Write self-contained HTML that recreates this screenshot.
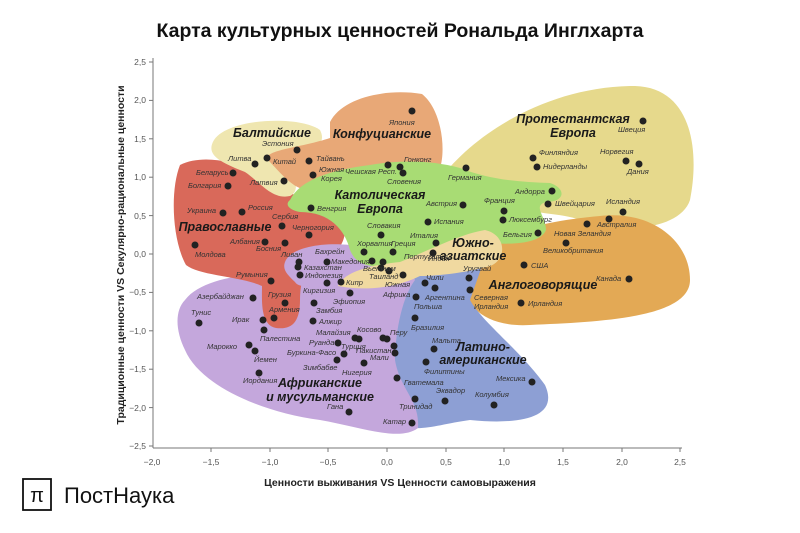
<!DOCTYPE html>
<html><head><meta charset="utf-8"><style>
body{margin:0;background:#fff;width:800px;height:533px;overflow:hidden}
svg{display:block;font-family:"Liberation Sans","DejaVu Sans",sans-serif}
.l{font-size:7.5px;font-style:italic;fill:#333}
.b{font-size:12.5px;font-weight:bold;font-style:italic;fill:#1a1a1a}
.t{font-size:8.5px;fill:#555}
</style></head><body>
<svg width="800" height="533" viewBox="0 0 800 533">
<text x="400" y="37" text-anchor="middle" font-size="19.5" font-weight="bold" fill="#111">Карта культурных ценностей Рональда Инглхарта</text>
<!-- regions -->
<path fill="#e6d98c" d="M436,185 C466,140 540,88 630,86 C692,84 700,150 690,200 C680,230 620,235 580,220 C560,212 520,214 500,202 C470,192 436,200 436,185Z"/>
<path fill="#e3a955" d="M465,262 C480,240 530,222 600,216 C650,210 690,240 690,280 C690,318 600,322 530,325 C480,328 455,300 465,262Z"/>
<path fill="#8d9fd4" d="M398,278 C420,266 460,260 482,266 L470,300 C482,322 520,350 545,385 C560,418 520,425 470,420 C440,424 422,432 402,426 C382,418 388,360 392,330 C395,300 388,286 398,278Z"/>
<path fill="#c4a7dc" d="M185,300 C200,280 240,275 270,272 C280,268 330,265 370,270 C400,272 412,270 415,280 C400,300 395,340 395,360 C400,390 420,400 418,428 C400,442 360,427 320,420 C260,412 200,385 185,350 C175,330 175,310 185,300Z"/>
<path fill="#d9695a" d="M180,165 C200,155 230,160 250,170 C270,185 300,200 330,205 C350,215 350,245 330,255 C310,262 300,272 300,300 C300,322 292,330 276,328 C260,325 262,300 262,286 C240,276 200,276 186,265 C172,240 170,190 180,165Z"/>
<path fill="#c4a7dc" d="M285,262 C290,248 320,242 350,245 C380,246 405,255 412,268 C405,282 380,285 350,285 C320,285 300,290 295,282 C288,275 282,270 285,262Z"/>
<path fill="#efe6b0" d="M214,140 C228,118 300,115 320,130 C330,150 300,150 292,160 C292,176 302,190 290,196 C272,200 260,182 245,172 C220,162 205,155 214,140Z"/>
<path fill="#e8a877" d="M330,122 C342,98 385,88 422,94 C442,110 446,150 440,168 C420,172 400,162 380,166 C360,176 330,192 305,190 C290,186 280,172 268,160 C262,150 300,148 330,138Z"/>
<path fill="#a8dc74" d="M290,200 C300,180 330,170 370,165 C400,160 430,160 460,168 C490,180 520,182 550,183 C566,188 566,202 546,202 C532,206 546,216 546,230 C540,246 500,246 470,240 C440,255 420,265 390,266 C370,268 356,265 350,250 C345,230 330,212 300,212 C290,210 284,205 290,200Z"/>
<path fill="#f0d9a0" d="M338,286 C344,272 370,265 400,262 C430,250 460,234 485,230 C507,235 507,260 490,266 C470,272 440,276 420,276 C400,286 370,292 338,286Z"/>
<!-- axes -->
<g stroke="#777" stroke-width="1">
<line x1="153" y1="58" x2="153" y2="448"/><line x1="153" y1="448" x2="682" y2="448"/>
<line x1="149" y1="62" x2="153" y2="62"/><line x1="149" y1="100.4" x2="153" y2="100.4"/><line x1="149" y1="138.8" x2="153" y2="138.8"/><line x1="149" y1="177.2" x2="153" y2="177.2"/><line x1="149" y1="215.6" x2="153" y2="215.6"/><line x1="149" y1="254" x2="153" y2="254"/><line x1="149" y1="292.4" x2="153" y2="292.4"/><line x1="149" y1="330.8" x2="153" y2="330.8"/><line x1="149" y1="369.2" x2="153" y2="369.2"/><line x1="149" y1="407.6" x2="153" y2="407.6"/><line x1="149" y1="446" x2="153" y2="446"/>
<line x1="211" y1="448" x2="211" y2="452"/><line x1="270" y1="448" x2="270" y2="452"/><line x1="328" y1="448" x2="328" y2="452"/><line x1="387" y1="448" x2="387" y2="452"/><line x1="446" y1="448" x2="446" y2="452"/><line x1="504" y1="448" x2="504" y2="452"/><line x1="563" y1="448" x2="563" y2="452"/><line x1="622" y1="448" x2="622" y2="452"/><line x1="680" y1="448" x2="680" y2="452"/>
</g>
<g class="t" text-anchor="end">
<text x="146" y="65">2,5</text><text x="146" y="103">2,0</text><text x="146" y="142">1,5</text><text x="146" y="180">1,0</text><text x="146" y="219">0,5</text><text x="146" y="257">0,0</text><text x="146" y="295">−0,5</text><text x="146" y="334">−1,0</text><text x="146" y="372">−1,5</text><text x="146" y="411">−2,0</text><text x="146" y="449">−2,5</text>
</g>
<g class="t" text-anchor="middle">
<text x="152" y="465">−2,0</text><text x="211" y="465">−1,5</text><text x="270" y="465">−1,0</text><text x="328" y="465">−0,5</text><text x="387" y="465">0,0</text><text x="446" y="465">0,5</text><text x="504" y="465">1,0</text><text x="563" y="465">1,5</text><text x="622" y="465">2,0</text><text x="680" y="465">2,5</text>
</g>
<text x="400" y="486" text-anchor="middle" font-size="10.5" font-weight="bold" fill="#222">Ценности выживания VS Ценности самовыражения</text>
<text transform="translate(124,255) rotate(-90)" text-anchor="middle" font-size="10.5" font-weight="bold" fill="#222">Традиционные ценности VS Секулярно-рациональные ценности</text>
<!-- logo -->
<rect x="23" y="479" width="28" height="31" fill="none" stroke="#111" stroke-width="1.8"/>
<text x="37" y="502" text-anchor="middle" font-size="20" fill="#111">π</text>
<text x="64" y="503" font-size="22" fill="#111">ПостНаука</text>
<!-- dots -->
<g fill="#222">
<circle cx="412" cy="111" r="3.5"/><circle cx="297" cy="150" r="3.5"/><circle cx="255" cy="164" r="3.5"/><circle cx="267" cy="158" r="3.5"/><circle cx="309" cy="161" r="3.5"/><circle cx="313" cy="175" r="3.5"/><circle cx="284" cy="181" r="3.5"/><circle cx="233" cy="173" r="3.5"/><circle cx="228" cy="186" r="3.5"/><circle cx="223" cy="213" r="3.5"/><circle cx="242" cy="212" r="3.5"/><circle cx="282" cy="226" r="3.5"/><circle cx="309" cy="235" r="3.5"/><circle cx="265" cy="242" r="3.5"/><circle cx="285" cy="243" r="3.5"/><circle cx="195" cy="245" r="3.5"/><circle cx="311" cy="208" r="3.5"/><circle cx="388" cy="165" r="3.5"/><circle cx="400" cy="167" r="3.5"/><circle cx="403" cy="173" r="3.5"/><circle cx="381" cy="235" r="3.5"/><circle cx="364" cy="252" r="3.5"/><circle cx="393" cy="252" r="3.5"/><circle cx="436" cy="243" r="3.5"/><circle cx="428" cy="222" r="3.5"/><circle cx="433" cy="253" r="3.5"/><circle cx="383" cy="262" r="3.5"/><circle cx="372" cy="261" r="3.5"/><circle cx="381" cy="268" r="3.5"/><circle cx="389" cy="271" r="3.5"/>
<circle cx="299" cy="262" r="3.5"/><circle cx="298" cy="267" r="3.5"/><circle cx="327" cy="262" r="3.5"/><circle cx="300" cy="275" r="3.5"/><circle cx="327" cy="283" r="3.5"/><circle cx="341" cy="282" r="3.5"/><circle cx="403" cy="275" r="3.5"/><circle cx="425" cy="283" r="3.5"/><circle cx="435" cy="288" r="3.5"/><circle cx="416" cy="297" r="3.5"/><circle cx="415" cy="318" r="3.5"/><circle cx="271" cy="281" r="3.5"/><circle cx="285" cy="303" r="3.5"/><circle cx="274" cy="318" r="3.5"/><circle cx="253" cy="298" r="3.5"/><circle cx="199" cy="323" r="3.5"/><circle cx="263" cy="320" r="3.5"/><circle cx="264" cy="330" r="3.5"/><circle cx="249" cy="345" r="3.5"/><circle cx="255" cy="351" r="3.5"/><circle cx="259" cy="373" r="3.5"/><circle cx="350" cy="293" r="3.5"/><circle cx="314" cy="303" r="3.5"/><circle cx="313" cy="321" r="3.5"/><circle cx="355" cy="338" r="3.5"/><circle cx="359" cy="339" r="3.5"/><circle cx="338" cy="343" r="3.5"/><circle cx="344" cy="354" r="3.5"/><circle cx="394" cy="346" r="3.5"/><circle cx="395" cy="353" r="3.5"/><circle cx="383" cy="338" r="3.5"/><circle cx="387" cy="339" r="3.5"/><circle cx="337" cy="360" r="3.5"/><circle cx="364" cy="363" r="3.5"/><circle cx="349" cy="412" r="3.5"/><circle cx="412" cy="423" r="3.5"/>
<circle cx="397" cy="378" r="3.5"/><circle cx="415" cy="399" r="3.5"/><circle cx="445" cy="401" r="3.5"/><circle cx="434" cy="349" r="3.5"/><circle cx="426" cy="362" r="3.5"/><circle cx="532" cy="382" r="3.5"/><circle cx="494" cy="405" r="3.5"/><circle cx="469" cy="278" r="3.5"/><circle cx="470" cy="290" r="3.5"/><circle cx="521" cy="303" r="3.5"/><circle cx="524" cy="265" r="3.5"/><circle cx="629" cy="279" r="3.5"/>
<circle cx="466" cy="168" r="3.5"/><circle cx="533" cy="158" r="3.5"/><circle cx="537" cy="167" r="3.5"/><circle cx="643" cy="121" r="3.5"/><circle cx="626" cy="161" r="3.5"/><circle cx="639" cy="164" r="3.5"/><circle cx="552" cy="191" r="3.5"/><circle cx="548" cy="204" r="3.5"/><circle cx="623" cy="212" r="3.5"/><circle cx="609" cy="219" r="3.5"/><circle cx="587" cy="224" r="3.5"/><circle cx="566" cy="243" r="3.5"/><circle cx="538" cy="233" r="3.5"/><circle cx="504" cy="211" r="3.5"/><circle cx="503" cy="220" r="3.5"/><circle cx="463" cy="205" r="3.5"/>
</g>
<!-- labels -->
<g class="l">
<text x="389" y="125">Япония</text><text x="262" y="146">Эстония</text><text x="228" y="161">Литва</text><text x="273" y="164">Китай</text><text x="316" y="161">Тайвань</text><text x="319" y="172">Южная</text><text x="321" y="181">Корея</text><text x="250" y="185">Латвия</text>
<text x="196" y="175">Беларусь</text><text x="188" y="188">Болгария</text><text x="187" y="213">Украина</text><text x="248" y="210">Россия</text><text x="272" y="219">Сербия</text><text x="292" y="230">Черногория</text><text x="230" y="244">Албания</text><text x="256" y="251">Босния</text><text x="195" y="257">Молдова</text><text x="317" y="211">Венгрия</text>
<text x="345" y="174">Чешская Респ.</text><text x="404" y="162">Гонконг</text><text x="387" y="184">Словения</text><text x="367" y="228">Словакия</text><text x="357" y="246">Хорватия</text><text x="391" y="246">Греция</text><text x="410" y="238">Италия</text><text x="434" y="224">Испания</text><text x="404" y="259">Португалия</text><text x="428" y="261">Индия</text><text x="363" y="271">Вьетнам</text><text x="369" y="279">Таиланд</text>
<text x="281" y="257">Ливан</text><text x="315" y="254">Бахрейн</text><text x="331" y="264">Македония</text><text x="304" y="270">Казахстан</text><text x="305" y="278">Индонезия</text><text x="303" y="293">Киргизия</text><text x="346" y="285">Кипр</text><text x="385" y="287">Южная</text><text x="383" y="297">Африка</text><text x="426" y="280">Чили</text><text x="425" y="300">Аргентина</text><text x="414" y="309">Польша</text><text x="411" y="330">Бразилия</text>
<text x="236" y="277">Румыния</text><text x="268" y="297">Грузия</text><text x="269" y="312">Армения</text><text x="197" y="299">Азербайджан</text><text x="191" y="315">Тунис</text><text x="232" y="322">Ирак</text><text x="260" y="341">Палестина</text><text x="207" y="349">Марокко</text><text x="254" y="362">Йемен</text><text x="243" y="383">Иордания</text><text x="333" y="304">Эфиопия</text><text x="316" y="313">Замбия</text><text x="319" y="324">Алжир</text><text x="316" y="335">Малайзия</text><text x="357" y="332">Косово</text><text x="309" y="345">Руанда</text><text x="341" y="349">Турция</text><text x="287" y="355">Буркина-Фасо</text><text x="356" y="353">Пакистан</text><text x="390" y="335">Перу</text><text x="370" y="360">Мали</text><text x="303" y="370">Зимбабве</text><text x="342" y="375">Нигерия</text><text x="327" y="409">Гана</text><text x="383" y="424">Катар</text>
<text x="404" y="385">Гватемала</text><text x="399" y="409">Тринидад</text><text x="436" y="393">Эквадор</text><text x="432" y="343">Мальта</text><text x="424" y="374">Филиппины</text><text x="496" y="381">Мексика</text><text x="475" y="397">Колумбия</text><text x="463" y="271">Уругвай</text><text x="474" y="300">Северная</text><text x="474" y="309">Ирландия</text><text x="528" y="306">Ирландия</text><text x="531" y="268">США</text><text x="596" y="281">Канада</text>
<text x="448" y="180">Германия</text><text x="539" y="155">Финляндия</text><text x="543" y="169">Нидерланды</text><text x="618" y="132">Швеция</text><text x="600" y="154">Норвегия</text><text x="627" y="174">Дания</text><text x="515" y="194">Андорра</text><text x="555" y="206">Швейцария</text><text x="606" y="204">Исландия</text><text x="597" y="227">Австралия</text><text x="554" y="236">Новая Зеландия</text><text x="543" y="253">Великобритания</text><text x="503" y="237">Бельгия</text><text x="484" y="203">Франция</text><text x="509" y="222">Люксембург</text><text x="426" y="206">Австрия</text>
</g>
<g class="b" text-anchor="middle">
<text x="272" y="137">Балтийские</text><text x="382" y="138">Конфуцианские</text><text x="380" y="199">Католическая</text><text x="380" y="213">Европа</text><text x="225" y="231">Православные</text><text x="573" y="123">Протестантская</text><text x="573" y="137">Европа</text><text x="473" y="247">Южно-</text><text x="473" y="260">азиатские</text><text x="543" y="289">Англоговорящие</text><text x="483" y="351">Латино-</text><text x="483" y="364">американские</text><text x="320" y="387">Африканские</text><text x="320" y="401">и мусульманские</text>
</g>
</svg>
</body></html>
